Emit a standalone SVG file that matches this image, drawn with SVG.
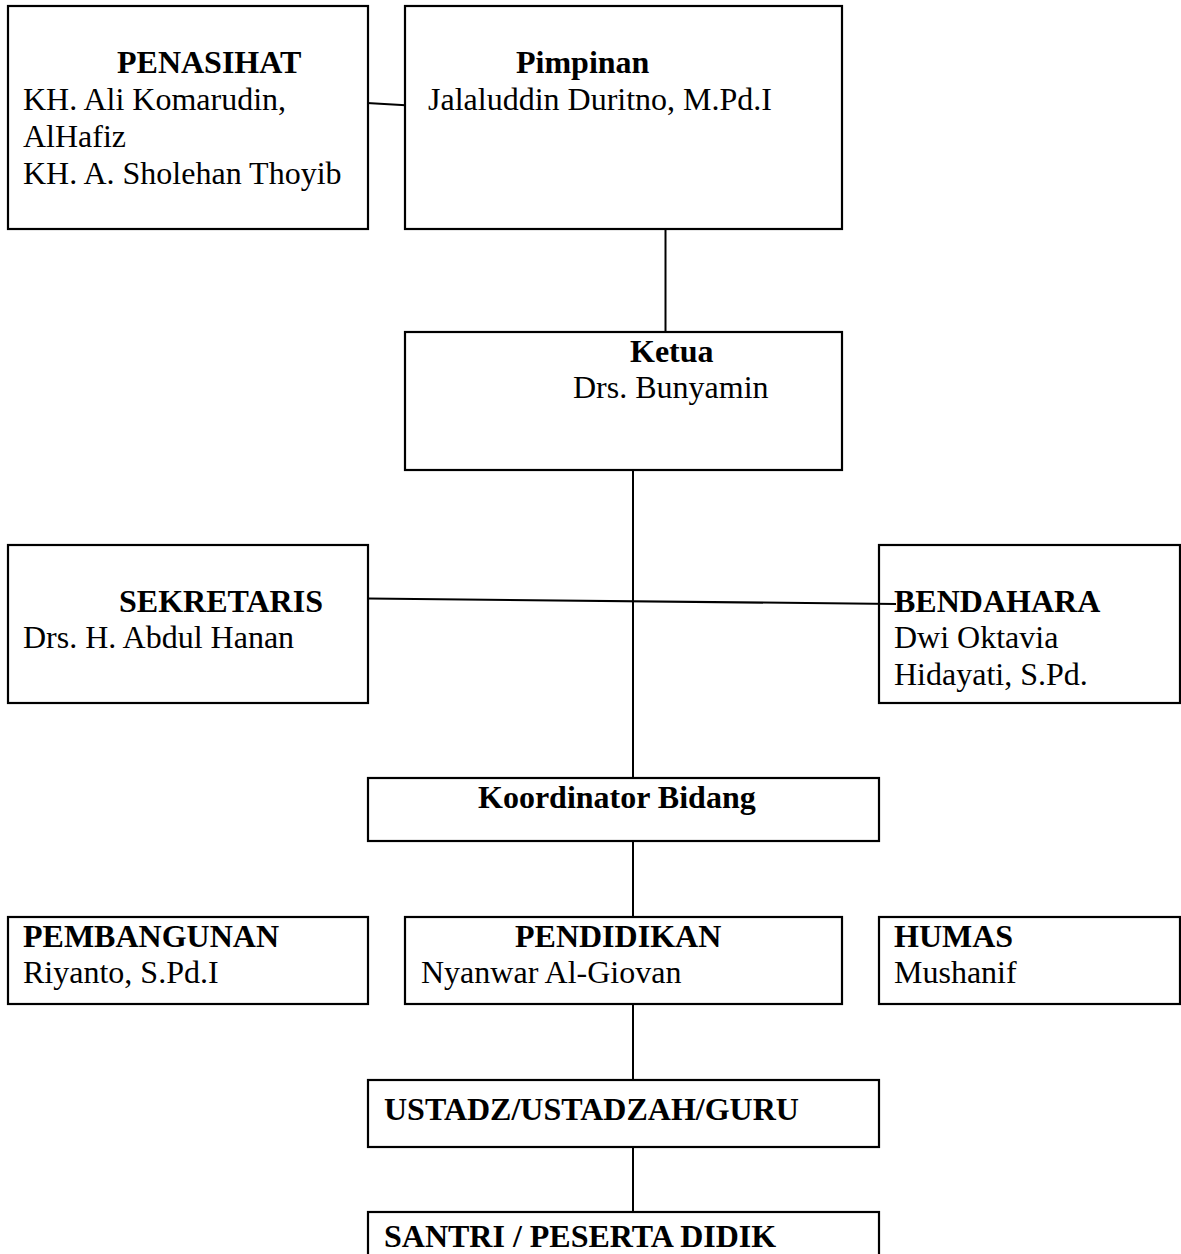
<svg xmlns="http://www.w3.org/2000/svg" width="1181" height="1254" viewBox="0 0 1181 1254">
<style>
.box{fill:#fff;stroke:#000;stroke-width:2.2}
.c{fill:none;stroke:#000;stroke-width:2}
text{font-family:"Liberation Serif","Times New Roman",serif;font-size:32px;fill:#000}
.b{font-weight:bold}
</style>
<rect width="1181" height="1254" fill="#fff"/>
<g id="connectors">
<path class="c" d="M367 103 L410 105.5" stroke-width="1.6"/>
<path class="c" d="M665.5 229 V332"/>
<path class="c" d="M633 470 V778"/>
<path class="c" d="M633 841 V917"/>
<path class="c" d="M633 1004 V1080"/>
<path class="c" d="M633 1147 V1212"/>
</g>
<g id="penasihat">
<rect class="box" x="8" y="6" width="360" height="223"/>
<text class="b" x="117" y="73">PENASIHAT</text>
<text x="23" y="110">KH. Ali Komarudin,</text>
<text x="23" y="147">AlHafiz</text>
<text x="23" y="184">KH. A. Sholehan Thoyib</text>
</g>
<g id="pimpinan">
<rect class="box" x="405" y="6" width="437" height="223"/>
<text class="b" x="516" y="73">Pimpinan</text>
<text x="428" y="110">Jalaluddin Duritno, M.Pd.I</text>
</g>
<g id="ketua">
<rect class="box" x="405" y="332" width="437" height="138"/>
<text class="b" x="630" y="362">Ketua</text>
<text x="573" y="398">Drs. Bunyamin</text>
</g>
<g id="sekretaris">
<rect class="box" x="8" y="545" width="360" height="158"/>
<text class="b" x="119" y="612">SEKRETARIS</text>
<text x="23" y="648">Drs. H. Abdul Hanan</text>
</g>
<g id="bendahara">
<rect class="box" x="879" y="545" width="301" height="158"/>
<text class="b" x="894" y="612">BENDAHARA</text>
<text x="894" y="648">Dwi Oktavia</text>
<text x="894" y="685">Hidayati, S.Pd.</text>
</g>
<g id="connector-sek-ben">
<path class="c" d="M368 598.5 L896 604"/>
</g>
<g id="koordinator">
<rect class="box" x="368" y="778" width="511" height="63"/>
<text class="b" x="478" y="808">Koordinator Bidang</text>
</g>
<g id="pembangunan">
<rect class="box" x="8" y="917" width="360" height="87"/>
<text class="b" x="23" y="947">PEMBANGUNAN</text>
<text x="23" y="983">Riyanto, S.Pd.I</text>
</g>
<g id="pendidikan">
<rect class="box" x="405" y="917" width="437" height="87"/>
<text class="b" x="515" y="947">PENDIDIKAN</text>
<text x="421" y="983">Nyanwar Al-Giovan</text>
</g>
<g id="humas">
<rect class="box" x="879" y="917" width="301" height="87"/>
<text class="b" x="894" y="947">HUMAS</text>
<text x="894" y="983">Mushanif</text>
</g>
<g id="ustadz">
<rect class="box" x="368" y="1080" width="511" height="67"/>
<text class="b" x="384" y="1120">USTADZ/USTADZAH/GURU</text>
</g>
<g id="santri">
<rect class="box" x="368" y="1212" width="511" height="60"/>
<text class="b" x="384" y="1247">SANTRI / PESERTA DIDIK</text>
</g>
</svg>
